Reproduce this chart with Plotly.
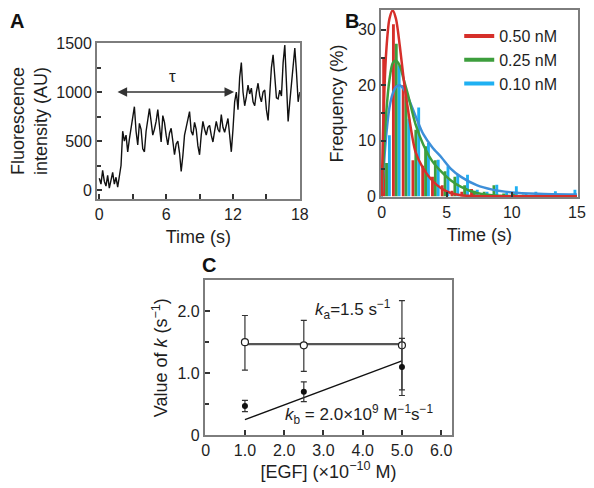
import plotly.graph_objects as go

# ---------------- Panel A data: single-molecule fluorescence trace ----------------
trace_dt = 0.15  # sampling step (s)
trace_intensity = [
    120, 60, 200, 90, 40, 150, 20, 110, 180, 60, 130, 30, 170, 250,
    600, 500, 560, 390, 520, 630, 750, 850, 600, 460, 680, 620, 420, 390,
    600, 700, 830, 700, 560, 620, 700, 820, 650, 490, 760, 690, 560, 460,
    580, 630, 500, 360, 470, 500, 380, 190, 350, 560, 640, 720, 800, 600,
    560, 690, 620, 450, 360, 560, 700, 620, 560, 640, 660, 560, 490, 600,
    700, 620, 590, 770, 640, 590, 680, 730, 560, 390, 620, 900, 1000, 820,
    1150, 1300, 1000, 860, 950, 1070, 980, 1040, 900, 860, 1000, 1090, 960,
    900, 1000, 1020, 820, 710, 980, 1250, 1380, 1150, 940, 930, 1020, 960,
    1300, 1480, 1150, 700, 900, 1090, 1250, 1450, 1200, 900, 1000,
]
trace_time = [round(i * trace_dt, 2) for i in range(len(trace_intensity))]
tau_start, tau_end, tau_level = 1.5, 12.1, 1000

# ---------------- Panel B data: dwell-time histograms + fits ----------------
bin_width = 0.75
n_bins = 20
hist_red = [25, 31, 20, 6.5, 5.5, 3.5, 2, 1, 0.8, 1.3, 0.3, 0.2, 0, 0, 0, 0, 0, 0, 0, 0]
hist_green = [6, 27.5, 18, 12, 9, 6.5, 4.5, 3.5, 2, 1, 0.8, 2, 0.5, 0.5, 0.3, 0.2, 0.2, 0, 0, 0]
hist_blue = [11, 23.6, 14, 16, 9.6, 6.6, 5.4, 3.9, 3.9, 1.2, 0.8, 2.1, 0.6, 1.8, 0.6, 0.8, 0.6, 0.9, 0.3, 1.2]

fit_time = [0, 0.15, 0.35, 0.6, 0.85, 1.1, 1.4, 1.7, 2.0, 2.6, 3.2, 3.9, 4.6, 5.3, 6.1, 7.3, 8.5, 10, 12, 15]
fit_red = [0, 15, 26, 32, 33.5, 32, 27, 21, 16, 8, 5, 2.8, 1.4, 0.6, 0.2, 0.05, 0, 0, 0, 0]
fit_green = [0, 7, 15, 21, 24, 24.5, 23.5, 21, 18.5, 13, 9.3, 6.3, 4.4, 2.9, 1.7, 0.6, 0.2, 0.05, 0, 0]
fit_blue = [0, 5, 11, 16, 18.5, 19.7, 20, 19.3, 18, 14.5, 11.2, 8.8, 7.0, 5.0, 3.5, 2.0, 1.2, 0.7, 0.45, 0.3]
conc_labels = ["0.50 nM", "0.25 nM", "0.10 nM"]

# ---------------- Panel C data: rate constants vs [EGF] ----------------
egf = [1.0, 2.5, 5.0]
ka_vals = [1.5, 1.45, 1.45]
ka_err_up = [0.43, 0.40, 0.72]
ka_err_dn = [0.45, 0.42, 0.72]
kb_vals = [0.47, 0.70, 1.10]
kb_err = [0.09, 0.16, 0.46]
ka_fit_x = [1.0, 5.0]
ka_fit_y = [1.47, 1.47]
kb_fit_x = [1.0, 5.0]
kb_fit_y = [0.25, 1.2]

RED = "#d62f2a"
GREEN = "#3d9e3d"
BLUE_BAR = "#1fb0f2"
BLUE_LINE = "#3d8fd9"
FONT = "Liberation Sans"
TXT = "#1e1e1e"

fig = go.Figure()

# Panel A
fig.add_trace(go.Scatter(x=trace_time, y=trace_intensity, mode="lines",
                         line=dict(color="#111111", width=1.4),
                         xaxis="x", yaxis="y", showlegend=False))

# Panel B bars
bin_centres = [bin_width * (k + 0.5) for k in range(n_bins)]
for vals, col in [(hist_red, RED), (hist_green, GREEN), (hist_blue, BLUE_BAR)]:
    fig.add_trace(go.Bar(x=bin_centres, y=vals, marker=dict(color=col, line=dict(width=0)),
                         xaxis="x2", yaxis="y2", showlegend=False))
# Panel B fits
for vals, col in [(fit_blue, BLUE_LINE), (fit_green, GREEN), (fit_red, RED)]:
    fig.add_trace(go.Scatter(x=fit_time, y=vals, mode="lines",
                             line=dict(color=col, width=2.5, shape="spline", smoothing=0.8),
                             xaxis="x2", yaxis="y2", showlegend=False))
# legend entries
for lab, col in zip(conc_labels, [RED, GREEN, BLUE_BAR]):
    fig.add_trace(go.Scatter(x=[None], y=[None], mode="lines", name=lab,
                             line=dict(color=col, width=4), xaxis="x2", yaxis="y2"))

# Panel C
fig.add_trace(go.Scatter(x=ka_fit_x, y=ka_fit_y, mode="lines",
                         line=dict(color="#555555", width=2.2),
                         xaxis="x3", yaxis="y3", showlegend=False))
fig.add_trace(go.Scatter(x=kb_fit_x, y=kb_fit_y, mode="lines",
                         line=dict(color="#111111", width=1.3),
                         xaxis="x3", yaxis="y3", showlegend=False))
fig.add_trace(go.Scatter(x=egf, y=ka_vals, mode="markers",
                         marker=dict(symbol="circle", size=7, color="white",
                                     line=dict(color="#222222", width=1.2)),
                         error_y=dict(type="data", symmetric=False, array=ka_err_up,
                                      arrayminus=ka_err_dn, color="#333333", thickness=1.2, width=3),
                         xaxis="x3", yaxis="y3", showlegend=False))
fig.add_trace(go.Scatter(x=egf, y=kb_vals, mode="markers",
                         marker=dict(symbol="circle", size=6, color="#111111"),
                         error_y=dict(type="data", array=kb_err, color="#333333", thickness=1.2, width=3),
                         xaxis="x3", yaxis="y3", showlegend=False))

axis_base = dict(showline=True, linecolor="#7d7d7d", linewidth=2, mirror=True,
                 ticks="inside", tickcolor="#333333", ticklen=5, tickwidth=1.5,
                 showgrid=False, zeroline=False, automargin=False,
                 ticklabeloverflow="allow",
                 tickfont=dict(size=16, color=TXT, family=FONT),
                 title_font=dict(size=18, color=TXT, family=FONT))

# The page body adds an 8 px offset, so the figure is 8 px smaller than the window.
fig.update_layout(
    width=586, height=480,
    margin=dict(l=0, r=0, t=0, b=0),
    paper_bgcolor="white", plot_bgcolor="white",
    font=dict(family=FONT, color=TXT),
    barmode="group", bargap=0.12, bargroupgap=0,
    xaxis=dict(axis_base, domain=[0.152, 0.498], anchor="y", range=[-0.2, 18],
               tickvals=[0, 6, 12, 18], minor=dict(dtick=3, ticks="inside", ticklen=5, tickcolor="#333333"),
               title=dict(text="Time (s)", standoff=8)),
    yaxis=dict(axis_base, domain=[0.602, 0.927], anchor="x", range=[-92, 1500],
               tickvals=[0, 500, 1000, 1500], minor=dict(dtick=250, ticks="inside", ticklen=4, tickcolor="#333333"),
               title=dict(text="Fluorescence<br>intensity (AU)", standoff=8)),
    xaxis2=dict(axis_base, domain=[0.6365, 0.972], anchor="y2", range=[-0.05, 15.05],
                tickvals=[0, 5, 10, 15],
                title=dict(text="Time (s)", standoff=8)),
    yaxis2=dict(axis_base, domain=[0.606, 0.996], anchor="x2", range=[-0.15, 33.6],
                tickvals=[0, 10, 20, 30], minor=dict(dtick=5, ticks="inside", ticklen=4, tickcolor="#333333"),
                title=dict(text="Frequency (%)", standoff=10)),
    xaxis3=dict(axis_base, domain=[0.336, 0.758], anchor="y3", range=[-0.02, 6.28],
                tickvals=[0, 1, 2, 3, 4, 5, 6],
                ticktext=["0", "1.0", "2.0", "3.0", "4.0", "5.0", "6.0"],
                title=dict(text="[EGF] (×10<sup>−10</sup> M)", standoff=6)),
    yaxis3=dict(axis_base, domain=[0.110, 0.433], anchor="x3", range=[0, 2.5],
                tickvals=[0, 1, 2], ticktext=["0", "1.0", "2.0"],
                minor=dict(dtick=0.5, ticks="inside", ticklen=4, tickcolor="#333333"),
                title=dict(text="Value of <i>k</i> (s<sup>−1</sup>)", standoff=5)),
    legend=dict(x=0.77, y=0.977, xanchor="left", yanchor="top", bgcolor="rgba(0,0,0,0)",
                font=dict(size=16, color=TXT, family=FONT), tracegroupgap=0),
)

# Panel letters
for letter, x, y in [("A", 0.0, 1.0), ("B", 0.572, 1.0), ("C", 0.328, 0.492)]:
    fig.add_annotation(text=f"<b>{letter}</b>", x=x, y=y, xref="paper", yref="paper",
                       xanchor="left", yanchor="top", showarrow=False,
                       font=dict(size=20, color="#111111", family=FONT))

# tau arrow in panel A
fig.add_annotation(x=tau_end, y=tau_level, ax=tau_start, ay=tau_level,
                   xref="x", yref="y", axref="x", ayref="y", text="",
                   showarrow=True, arrowside="end+start", arrowhead=2, startarrowhead=2,
                   arrowsize=1.2, startarrowsize=1.2, arrowwidth=1.6, arrowcolor="#333333")
fig.add_annotation(x=6.6, y=tau_level, xref="x", yref="y",
                   text="τ", showarrow=False, yanchor="bottom", yshift=4,
                   font=dict(size=17, color=TXT, family=FONT))

# Panel C labels
fig.add_annotation(x=3.75, y=2.02, xref="x3", yref="y3", showarrow=False,
                   text="<i>k</i><sub>a</sub>=1.5 s<sup>−1</sup>",
                   font=dict(size=17, color=TXT, family=FONT))
fig.add_annotation(x=3.9, y=0.33, xref="x3", yref="y3", showarrow=False,
                   text="<i>k</i><sub>b</sub> = 2.0×10<sup>9</sup> M<sup>−1</sup>s<sup>−1</sup>",
                   font=dict(size=17, color=TXT, family=FONT))

fig.write_html("out.html")
